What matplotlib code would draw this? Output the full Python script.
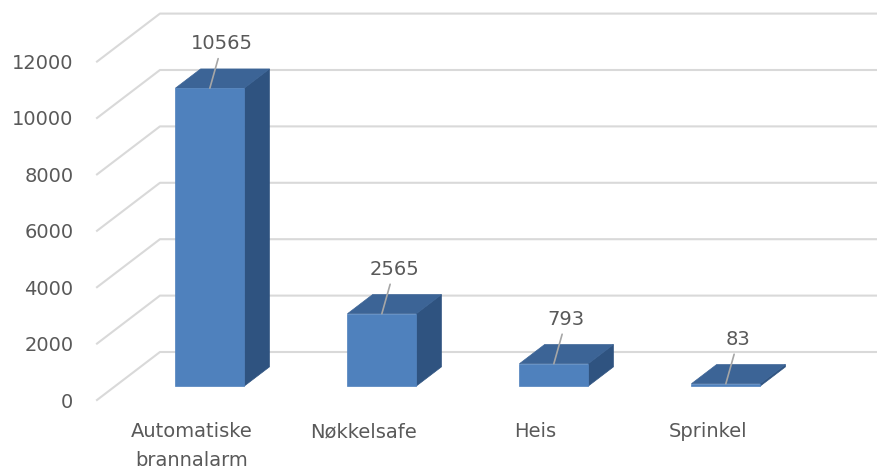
import matplotlib
matplotlib.use("Agg")
import matplotlib.pyplot as plt

# data
categories = ["Automatiske\nbrannalarm", "Nøkkelsafe", "Heis", "Sprinkel"]
values = [10565, 2565, 793, 83]
y_ticks = [0, 2000, 4000, 6000, 8000, 10000, 12000]

# 3d look: depth vector (in data units) for the full floor depth
DX = 0.366
DV = 1702
Z0, Z1 = 0.29, 0.69  # bar front / back as fraction of floor depth
W = 0.40
X_LEFT, X_RIGHT = -0.55, 3.985

c_front = "#4f81bd"
c_top = "#3c6496"
c_side = "#2f5380"
c_grid = "#d9d9d9"
c_text = "#595959"


def proj(x, v, z):
    return x + DX * z, v + DV * z


fig = plt.figure(figsize=(8.77, 4.74), dpi=100)
ax = fig.add_axes([97 / 877, 74 / 474, 780 / 877, 400 / 474])
ax.set_xlim(X_LEFT, X_RIGHT)
ax.set_ylim(0, 14184)
for s in ax.spines.values():
    s.set_visible(False)

# walls: gridlines on side wall + back wall
for v in y_ticks:
    p0 = proj(X_LEFT, v, 0)
    p1 = proj(X_LEFT, v, 1)
    p2 = proj(X_RIGHT + 1, v, 1)
    ax.plot([p0[0], p1[0], p2[0]], [p0[1], p1[1], p2[1]],
            color=c_grid, lw=1.5, clip_on=False, zorder=1)

# bars
for i, v in enumerate(values):
    xl, xr = i - W / 2, i + W / 2
    front = [proj(xl, 0, Z0), proj(xr, 0, Z0), proj(xr, v, Z0), proj(xl, v, Z0)]
    top = [proj(xl, v, Z0), proj(xr, v, Z0), proj(xr, v, Z1), proj(xl, v, Z1)]
    side = [proj(xr, 0, Z0), proj(xr, 0, Z1), proj(xr, v, Z1), proj(xr, v, Z0)]
    for pts, c in [(side, c_side), (top, c_top), (front, c_front)]:
        ax.fill([p[0] for p in pts], [p[1] for p in pts], color=c,
                lw=0.5, ec=c, zorder=3)
    ax.annotate(str(v), xy=proj(i, v, Z0), xytext=(9, 32),
                textcoords="offset points", ha="center", va="center",
                fontsize=14, color=c_text, zorder=5,
                arrowprops=dict(arrowstyle="-", color="#a6a6a6", lw=1.2,
                                shrinkA=2, shrinkB=0))

ax.set_yticks(y_ticks)
ax.set_yticklabels([str(t) for t in y_ticks])
ax.set_xticks(range(len(categories)))
ax.set_xticklabels(categories, linespacing=1.65)
ax.tick_params(axis="y", length=0, pad=17, labelsize=14, labelcolor=c_text)
ax.tick_params(axis="x", length=0, pad=16, labelsize=14, labelcolor=c_text)

fig.savefig("out.png", dpi=100)
